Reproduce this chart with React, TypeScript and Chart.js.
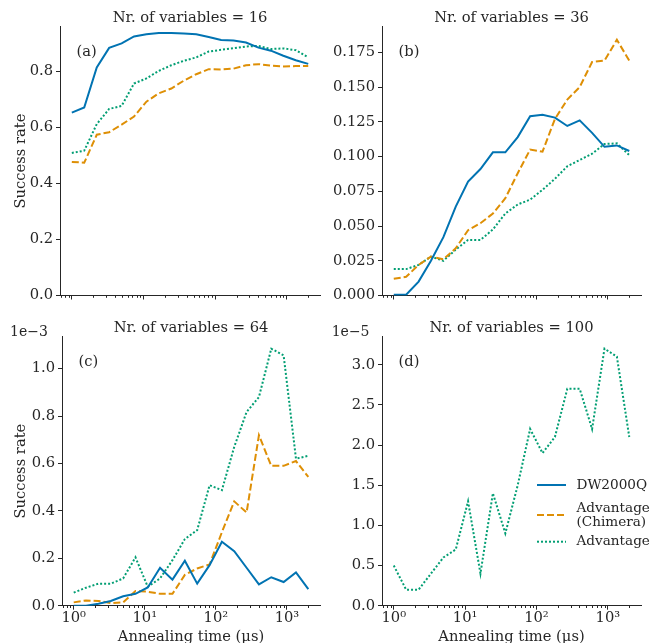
import React, { useEffect, useRef } from 'react';
import { Chart, registerables } from 'chart.js';

Chart.register(...registerables);

const SERIF = "'DejaVu Serif', serif";
const INK = '#262626';
const BLUE = '#0173B2';
const ORANGE = '#DE8F05';
const GREEN = '#029E73';

// Annealing times (µs), 20 log-spaced settings
const annealingTimes = [1, 1.49, 2.23, 3.32, 4.96, 7.39, 11.0, 16.4, 24.5, 36.6, 54.6, 81.5, 121.5, 181.3, 270.4, 403.4, 601.8, 897.8, 1339.4, 1998.2];

// x-axis ticks
const decadeTicks = [1, 10, 100, 1000];
const decadeLabels = ['10⁰', '10¹', '10²', '10³'];
const minorTicks = [0.7, 0.8, 0.9, 2, 3, 4, 5, 6, 7, 8, 9, 20, 30, 40, 50, 60, 70, 80, 90, 200, 300, 400, 500, 600, 700, 800, 900, 2000];

const seriesNames = ['DW2000Q', 'Advantage\n(Chimera)', 'Advantage'];

// Nr. of variables = 16
const dw16 = [0.653, 0.671, 0.814, 0.884, 0.900, 0.925, 0.933, 0.937, 0.937, 0.935, 0.933, 0.923, 0.912, 0.910, 0.903, 0.885, 0.874, 0.856, 0.840, 0.827];
const chimera16 = [0.477, 0.474, 0.574, 0.583, 0.610, 0.639, 0.692, 0.722, 0.739, 0.767, 0.790, 0.808, 0.807, 0.810, 0.822, 0.826, 0.821, 0.818, 0.819, 0.819];
const advantage16 = [0.509, 0.517, 0.612, 0.666, 0.677, 0.757, 0.775, 0.802, 0.822, 0.838, 0.850, 0.871, 0.877, 0.883, 0.889, 0.891, 0.880, 0.882, 0.876, 0.850];

// Nr. of variables = 36
const dw36 = [0.0005, 0.0005, 0.010, 0.025, 0.042, 0.064, 0.082, 0.091, 0.103, 0.103, 0.114, 0.129, 0.130, 0.128, 0.122, 0.126, 0.117, 0.107, 0.108, 0.104];
const chimera36 = [0.012, 0.0135, 0.022, 0.028, 0.026, 0.034, 0.047, 0.052, 0.059, 0.070, 0.088, 0.105, 0.1035, 0.127, 0.141, 0.150, 0.168, 0.169, 0.184, 0.169];
const advantage36 = [0.019, 0.019, 0.022, 0.028, 0.025, 0.033, 0.040, 0.040, 0.0475, 0.059, 0.0655, 0.069, 0.076, 0.084, 0.093, 0.0975, 0.102, 0.109, 0.1095, 0.101];

// Nr. of variables = 64 (units of 1e-3)
const dw64 = [0.0, 0.0, 0.008, 0.02, 0.04, 0.05, 0.077, 0.16, 0.11, 0.19, 0.093, 0.171, 0.27, 0.23, 0.16, 0.09, 0.12, 0.10, 0.14, 0.07];
const chimera64 = [0.014, 0.022, 0.02, 0.011, 0.014, 0.062, 0.059, 0.05, 0.05, 0.13, 0.157, 0.174, 0.31, 0.44, 0.393, 0.719, 0.59, 0.59, 0.61, 0.543];
const advantage64 = [0.055, 0.076, 0.093, 0.093, 0.115, 0.204, 0.08, 0.115, 0.192, 0.281, 0.319, 0.508, 0.487, 0.67, 0.817, 0.88, 1.084, 1.056, 0.62, 0.632];

// Nr. of variables = 100 (units of 1e-5)
const dw100: number[] = [];
const chimera100: number[] = [];
const advantage100 = [0.5, 0.2, 0.2, 0.4, 0.6, 0.7, 1.3, 0.4, 1.4, 0.9, 1.5, 2.2, 1.9, 2.1, 2.7, 2.7, 2.2, 3.2, 3.1, 2.1];

const seriesStyles = [
  { color: BLUE, dash: [] as number[] },
  { color: ORANGE, dash: [7, 3] },
  { color: GREEN, dash: [2, 2] },
];

type PanelCfg = {
  left: number; top: number; width: number; height: number;
  title: string; tag: string;
  values: number[][];
  yMax: number; yStep: number; yDecimals: number;
  yAxisWidth: number; padRight: number; xAxisHeight: number;
  showXLabels: boolean; showYTitle: boolean;
  offsetText?: string; offsetX?: number;
  legend?: boolean;
};

const panels: PanelCfg[] = [
  { left: 0, top: 0, width: 326, height: 310, title: 'Nr. of variables = 16', tag: '(a)',
    values: [dw16, chimera16, advantage16], yMax: 0.96, yStep: 0.2, yDecimals: 1,
    yAxisWidth: 60, padRight: 6, xAxisHeight: 14.5, showXLabels: false, showYTitle: true },
  { left: 326, top: 0, width: 326, height: 310, title: 'Nr. of variables = 36', tag: '(b)',
    values: [dw36, chimera36, advantage36], yMax: 0.1935, yStep: 0.025, yDecimals: 3,
    yAxisWidth: 56, padRight: 11, xAxisHeight: 14.5, showXLabels: false, showYTitle: false },
  { left: 0, top: 310, width: 326, height: 333, title: 'Nr. of variables = 64', tag: '(c)',
    values: [dw64, chimera64, advantage64], yMax: 1.135, yStep: 0.2, yDecimals: 1,
    yAxisWidth: 62, padRight: 6, xAxisHeight: 37.3, showXLabels: true, showYTitle: true,
    offsetText: '1e\u22123', offsetX: 10 },
  { left: 326, top: 310, width: 326, height: 333, title: 'Nr. of variables = 100', tag: '(d)',
    values: [dw100, chimera100, advantage100], yMax: 3.35, yStep: 0.5, yDecimals: 1,
    yAxisWidth: 56, padRight: 11, xAxisHeight: 37.3, showXLabels: true, showYTitle: false,
    offsetText: '1e\u22125', offsetX: 5.7, legend: true },
];

const isDecade = (v: number) => decadeTicks.some((d) => Math.abs(d - v) < 1e-9);
const allTicks = [...minorTicks, ...decadeTicks].sort((a, b) => a - b);

function Panel({ cfg }: { cfg: PanelCfg }) {
  const ref = useRef<HTMLCanvasElement | null>(null);
  useEffect(() => {
    const canvas = ref.current;
    if (!canvas) return;

    const decor = {
      id: 'decor' + cfg.tag,
      afterDraw(chart: any) {
        const ctx = chart.ctx as CanvasRenderingContext2D;
        const area = chart.chartArea;
        const xs = chart.scales.x;
        ctx.save();
        // minor x ticks
        ctx.strokeStyle = INK;
        ctx.lineWidth = 1;
        minorTicks.forEach((v) => {
          const px = Math.round(xs.getPixelForValue(v)) + 0.5;
          ctx.beginPath();
          ctx.moveTo(px, area.bottom);
          ctx.lineTo(px, area.bottom + 2.3);
          ctx.stroke();
        });
        // panel title centred over the plotting area
        ctx.fillStyle = INK;
        ctx.font = `14.7px ${SERIF}`;
        ctx.textAlign = 'center';
        ctx.textBaseline = 'alphabetic';
        ctx.fillText(cfg.title, (area.left + area.right) / 2, 21.6);
        // panel tag
        ctx.textAlign = 'left';
        ctx.textBaseline = 'middle';
        ctx.fillText(cfg.tag, area.left + 16.5, area.top + 25.5);
        // offset text
        if (cfg.offsetText) {
          ctx.font = `14px ${SERIF}`;
          ctx.textBaseline = 'alphabetic';
          ctx.fillText(cfg.offsetText, cfg.offsetX || 0, 25.5);
        }
        // legend
        if (cfg.legend) {
          const lineX0 = 211, lineX1 = 240, textX = 250.5;
          const rows = [
            { y: 175, lines: [seriesNames[0]] },
            { y: 205, lines: seriesNames[1].split('\n') },
            { y: 231.7, lines: [seriesNames[2]] },
          ];
          ctx.font = `13.6px ${SERIF}`;
          ctx.textBaseline = 'middle';
          rows.forEach((r, i) => {
            ctx.strokeStyle = seriesStyles[i].color;
            ctx.lineWidth = 2;
            ctx.setLineDash(seriesStyles[i].dash);
            ctx.beginPath();
            ctx.moveTo(lineX0, r.y);
            ctx.lineTo(lineX1, r.y);
            ctx.stroke();
            ctx.setLineDash([]);
            ctx.fillStyle = INK;
            const lh = 14;
            const start = r.y - ((r.lines.length - 1) * lh) / 2;
            r.lines.forEach((t, k) => ctx.fillText(t, textX, start + k * lh));
          });
        }
        ctx.restore();
      },
    };

    const font = { family: SERIF, size: 14.7, weight: 'normal' as const };

    const chart = new Chart(canvas, {
      type: 'line',
      data: {
        datasets: cfg.values.map((vals, i) => ({
          label: seriesNames[i],
          data: vals.map((y, k) => ({ x: annealingTimes[k], y })),
          borderColor: seriesStyles[i].color,
          backgroundColor: seriesStyles[i].color,
          borderWidth: 2,
          borderDash: seriesStyles[i].dash,
          pointRadius: 0,
          tension: 0,
          fill: false,
        })),
      },
      options: {
        responsive: false,
        animation: false,
        devicePixelRatio: 1,
        layout: { padding: { left: 0, right: cfg.padRight, top: 26.6, bottom: 0 } },
        plugins: {
          legend: { display: false },
          tooltip: { enabled: false },
          title: { display: false },
        },
        scales: {
          x: {
            type: 'logarithmic',
            min: 0.684,
            max: 2917,
            afterBuildTicks: (scale: any) => {
              scale.ticks = allTicks.map((v) => ({ value: v }));
            },
            afterFit: (scale: any) => {
              scale.height = cfg.xAxisHeight;
            },
            ticks: {
              display: cfg.showXLabels,
              autoSkip: false,
              maxRotation: 0,
              minRotation: 0,
              padding: 0,
              color: INK,
              font,
              callback: (v: any) => {
                const idx = decadeTicks.findIndex((d) => Math.abs(d - Number(v)) < 1e-9);
                return idx >= 0 ? decadeLabels[idx] : '';
              },
            },
            grid: {
              display: true,
              drawOnChartArea: false,
              drawTicks: true,
              tickLength: 4,
              tickColor: (c: any) => (c.tick && isDecade(c.tick.value) ? INK : 'rgba(0,0,0,0)'),
            },
            border: { display: true, color: INK, width: 1 },
            title: {
              display: cfg.showXLabels,
              text: 'Annealing time (μs)',
              color: INK,
              font,
              padding: { top: 0, bottom: -3 },
            },
          },
          y: {
            type: 'linear',
            min: 0,
            max: cfg.yMax,
            afterFit: (scale: any) => {
              scale.width = cfg.yAxisWidth;
            },
            ticks: {
              stepSize: cfg.yStep,
              includeBounds: false,
              padding: 3,
              color: INK,
              font,
              callback: (v: any) => Number(v).toFixed(cfg.yDecimals),
            },
            grid: {
              display: true,
              drawOnChartArea: false,
              drawTicks: true,
              tickLength: 4,
              tickColor: INK,
            },
            border: { display: true, color: INK, width: 1 },
            title: {
              display: cfg.showYTitle,
              text: 'Success rate',
              color: INK,
              font,
              padding: { top: 12, bottom: 0 },
            },
          },
        },
      },
      plugins: [decor],
    } as any);

    return () => chart.destroy();
  }, [cfg]);

  return (
    <canvas
      ref={ref}
      width={cfg.width}
      height={cfg.height}
      style={{ position: 'absolute', left: cfg.left, top: cfg.top, width: cfg.width, height: cfg.height }}
    />
  );
}

export default function App() {
  return (
    <div style={{ position: 'absolute', left: 0, top: 0, width: 652, height: 643, background: '#ffffff' }}>
      {panels.map((p) => (
        <Panel key={p.tag} cfg={p} />
      ))}
    </div>
  );
}
